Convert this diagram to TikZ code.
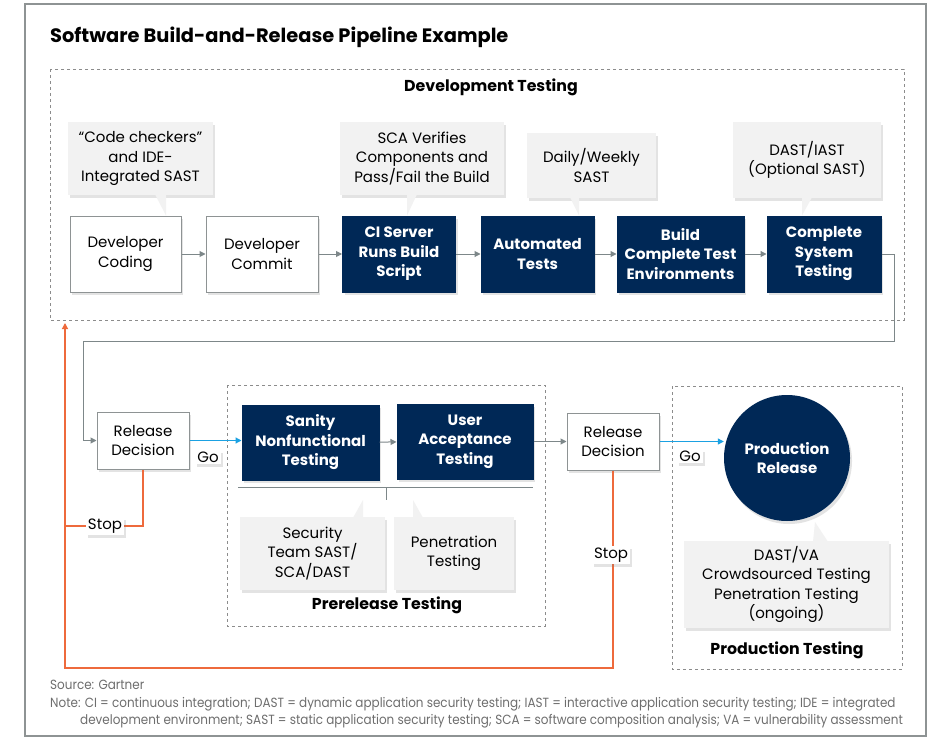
\documentclass[tikz,border=0pt]{standalone}
\usepackage{fontspec}
\setmainfont{Poppins}
\newfontfamily\notefamily[FakeStretch=0.9]{Poppins}
\usetikzlibrary{arrows.meta,calc,shadows,positioning}
\definecolor{navy}{HTML}{002856}
\definecolor{linegray}{HTML}{7D8789}
\definecolor{boxgray}{HTML}{8E9394}
\definecolor{callfill}{HTML}{F2F2F2}
\definecolor{dashgray}{HTML}{8C8C8C}
\definecolor{stoporange}{HTML}{EE6A3C}
\definecolor{goblue}{HTML}{1BA1E2}
\definecolor{notegray}{HTML}{6E6E6E}
\newcommand{\boxfont}{\fontsize{15}{19.5}\selectfont}
\newcommand{\headfont}{\bfseries\fontsize{15.8}{18}\selectfont}
\newcommand{\notefont}{\notefamily\fontsize{13.3}{15}\selectfont}

\begin{document}
\begin{tikzpicture}[x=1pt,y=-1pt,>={Triangle[length=6pt,width=6pt]}]
	\tikzstyle{shade}=[drop shadow={shadow xshift=2pt,shadow yshift=-3pt,opacity=.22}]
	\tikzstyle{stage}=[shade,draw=boxgray,line width=1pt,fill=white,inner sep=0pt,align=center,font=\boxfont,minimum height=76pt]
	\tikzstyle{navystage}=[stage,draw=navy,fill=navy,text=white,font=\boxfont\bfseries]
	\tikzstyle{callout}=[shade,fill=callfill,inner sep=0pt,align=center,font=\boxfont,minimum height=73pt]
	\tikzstyle{decision}=[stage,minimum width=92pt,minimum height=57pt]
	\tikzstyle{area}=[draw=dashgray,dashed,line width=.8pt]
	\tikzstyle{flow}=[draw=linegray,line width=1pt,->]
	\tikzstyle{goflow}=[draw=goblue,line width=1.2pt,->]
	\tikzstyle{stopflow}=[draw=stoporange,line width=1.2pt]
	\tikzstyle{tag}=[shade,fill=white,inner sep=2pt,font=\boxfont]

	\useasboundingbox (0,0) rectangle (928,738);
	\fill [white] (0,0) rectangle (928,738);
	\draw [draw=boxgray,line width=1.5pt] (25,4) rectangle (926,736);

	\node (title) [anchor=west,inner sep=0pt,font=\bfseries\fontsize{19.4}{24}\selectfont] at (50,37) {Software Build-and-Release Pipeline Example};

	\draw [area] (50,69) rectangle (904,320);
	\draw [area] (227,385) rectangle (545,626);
	\draw [area] (672,386) rectangle (902,669);
	\node (devlabel) [font=\headfont] at (491,87) {Development Testing};
	\node (prelabel) [font=\headfont] at (387,605) {Prerelease Testing};
	\node (prodlabel) [font=\headfont] at (787,650) {Production Testing};

	\node (coding) [stage,minimum width=111pt] at (125.5,254) {Developer\\Coding};
	\node (commit) [stage,minimum width=112pt] at (262,254) {Developer\\Commit};
	\node (ciserver) [navystage,minimum width=113pt] at (399,254) {CI Server\\Runs Build\\Script};
	\node (autotests) [navystage,minimum width=113pt] at (537.5,254) {Automated\\Tests};
	\node (buildenv) [navystage,minimum width=127pt] at (680.5,254) {Build\\Complete Test\\Environments};
	\node (systest) [navystage,minimum width=114pt] at (824,254) {Complete\\System\\Testing};

	\node (checkers) [callout,minimum width=145pt] at (140.5,158.5) {``Code checkers''\\and IDE-\\Integrated SAST};
	\node (scaverify) [callout,minimum width=164pt] at (422,158.5) {SCA Verifies\\Components and\\Pass/Fail the Build};
	\node (dailysast) [callout,minimum width=129pt,minimum height=65pt] at (591.5,165.5) {Daily/Weekly\\SAST};
	\node (dastiast) [callout,minimum width=148pt,minimum height=76pt] at (807,160) {DAST/IAST\\(Optional SAST)};
	\fill [callfill] ($(checkers.south)+(14.5,-1)$) -- ($(checkers.south)+(25.5,-1)$) -- (coding.north -| 166,0);
	\fill [callfill] ($(scaverify.south)+(-15,-1)$) -- ($(scaverify.south)+(-5,-1)$) -- (ciserver.north -| 407,0);
	\fill [callfill] ($(dailysast.south)+(-21.5,-1)$) -- ($(dailysast.south)+(-12.5,-1)$) -- (autotests.north -| 579,0);
	\fill [callfill] ($(dastiast.south)+(-5,-1)$) -- ($(dastiast.south)+(5,-1)$) -- (systest.north -| 802,0);

	\draw [flow] (coding) -- (commit);
	\draw [flow] (commit) -- (ciserver);
	\draw [flow] (ciserver) -- (autotests);
	\draw [flow] (autotests) -- (buildenv);
	\draw [flow] (buildenv) -- (systest);

	\node (decision1) [decision] at (143,440.5) {Release\\Decision};
	\node (sanity) [navystage,minimum width=137pt,minimum height=75pt] at (310.5,442.5) {Sanity\\Nonfunctional\\Testing};
	\node (uat) [navystage,minimum width=136pt,minimum height=75pt] at (465,441.5) {User\\Acceptance\\Testing};
	\node (decision2) [decision] at (613,441.5) {Release\\Decision};
	\node (release) [shade,circle,fill=navy,text=white,minimum size=126pt,align=center,font=\boxfont\bfseries] at (787,458) {Production\\Release};

	\node (secteam) [callout,minimum width=145pt] at (312.5,553.5) {Security\\Team SAST/\\SCA/DAST};
	\node (pentest) [callout,minimum width=120pt] at (454,553.5) {Penetration\\Testing};
	\node (ongoing) [callout,minimum width=205pt,minimum height=87pt] at (786.5,584.5) {DAST/VA\\Crowdsourced Testing\\Penetration Testing\\(ongoing)};
	\fill [callfill] ($(secteam.north)+(40.5,1)$) -- ($(secteam.north)+(50.5,1)$) -- (363,500);
	\fill [callfill] ($(pentest.north)+(-41,1)$) -- ($(pentest.north)+(-31,1)$) -- (413,500);
	\fill [callfill] ($(ongoing.north)+(26.5,1)$) -- ($(ongoing.north)+(41.5,1)$) -- (815,522);

	\coordinate (brleft) at (238,487);
	\coordinate (brright) at (533,487);
	\coordinate (brtick) at (386,487);
	\draw [draw=linegray,line width=1pt] (brleft) -- (brright);
	\draw [draw=linegray,line width=1pt] (brtick) -- ++(0,13);

	\coordinate (loopright) at (894,341);
	\coordinate (loopleft) at (83,341);
	\draw [flow] (systest.east) -- (systest.east -| loopright) -- (loopright) -- (loopleft) |- (decision1.west);
	\draw [goflow] (decision1.east) -- (decision1.east -| sanity.west);
	\draw [flow] (sanity) -- (uat);
	\draw [flow] (uat.east) -- (uat.east -| decision2.west);
	\draw [goflow] (decision2.east) -- (decision2.east -| release.west);

	\coordinate (stopjoin) at (65,526);
	\coordinate (stopcorner) at (65,668);
	\coordinate (stoptip) at (65,323);
	\draw [stopflow] (decision1.south) |- (stopjoin);
	\draw [stopflow,->] (decision2.south) |- (stopcorner) -- (stoptip);

	\node (go1) [tag] at (208,457) {Go};
	\node (go2) [tag] at (690,456) {Go};
	\node (stop1) [tag] at (105,526) {Stop};
	\node (stop2) [tag] at (611,555) {Stop};

	\node (source) [anchor=west,inner sep=0pt,text=notegray,font=\notefont] at (50,685) {Source: Gartner};
	\node (note1) [anchor=west,inner sep=0pt,text=notegray,font=\notefont] at (50,704) {Note: CI = continuous integration; DAST = dynamic application security testing; IAST = interactive application security testing; IDE = integrated};
	\node (note2) [anchor=west,inner sep=0pt,text=notegray,font=\notefont] at (80,721) {development environment; SAST = static application security testing; SCA = software composition analysis; VA = vulnerability assessment};
\end{tikzpicture}
\end{document}
